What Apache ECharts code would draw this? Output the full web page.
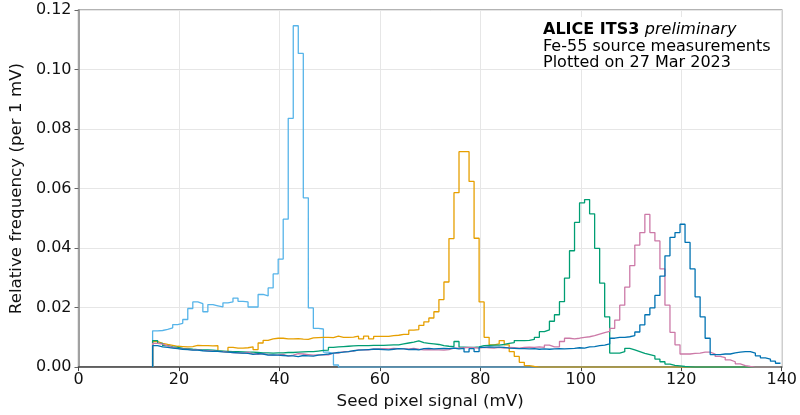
<!DOCTYPE html>
<html>
<head>
<meta charset="utf-8">
<script src="https://cdn.jsdelivr.net/npm/echarts@6/dist/echarts.min.js"></script>
<style>
html,body{margin:0;padding:0;background:#fff;}
#chart{width:800px;height:415px;}
</style>
</head>
<body>
<div id="chart"></div>
<script>
// Histogram bins: 1 mV wide, first bin lower edge (mV)
const binStart = 14.75;
const binWidth = 1;

// Relative frequency per bin (bins starting at ~15 mV ... ~139 mV)
const lightBlue = [
0.0122,0.0123,0.0127,0.0132,0.0143,0.0147,0.0160,0.0197,0.0219,0.0213,
0.0186,0.0210,0.0206,0.0202,0.0216,0.0219,0.0232,0.0221,0.0219,0.0202,
0.0202,0.0244,0.0239,0.0266,0.0313,0.0363,0.0497,0.0836,0.1147,0.1054,
0.0569,0.0199,0.0130,0.0128,0.0050,0.0045,0.0007,0,0,0,
0,0,0,0,0,0,0,0,0,0,
0,0,0,0,0,0,0,0,0,0,
0,0,0,0,0,0,0,0,0,0,
0,0,0,0,0,0,0,0,0,0,
0,0,0,0,0,0,0,0,0,0,
0,0,0,0,0,0,0,0,0,0,
0,0,0,0,0,0,0,0,0,0,
0,0,0,0,0,0,0,0,0,0,
0,0,0,0,0
];
const yellow = [
0.0086,0.0080,0.0076,0.0073,0.0070,0.0069,0.0068,0.0069,0.0073,0.0072,
0.0072,0.0071,0.0072,0.0053,0.0051,0.0066,0.0064,0.0064,0.0065,0.0068,
0.0059,0.0081,0.0090,0.0095,0.0097,0.0097,0.0095,0.0095,0.0096,0.0094,
0.0093,0.0098,0.0099,0.0100,0.0100,0.0099,0.0104,0.0100,0.0100,0.0101,
0.0104,0.0095,0.0104,0.0095,0.0103,0.0103,0.0103,0.0106,0.0107,0.0110,
0.0110,0.0124,0.0126,0.0140,0.0152,0.0165,0.0186,0.0227,0.0286,0.0432,
0.0586,0.0724,0.0724,0.0624,0.0433,0.0219,0.0100,0.0075,0.0078,0.0089,
0.0075,0.0052,0.0036,0.0016,0.0005,0.0002,0,0,0,0,
0,0,0,0,0,0,0,0,0,0,
0,0,0,0,0,0,0,0,0,0,
0,0,0,0,0,0,0,0,0,0,
0,0,0,0,0,0,0,0,0,0,
0,0,0,0,0
];
const green = [
0.0089,0.0080,0.0072,0.0068,0.0066,0.0063,0.0062,0.0060,0.0059,0.0058,
0.0058,0.0057,0.0055,0.0054,0.0053,0.0052,0.0052,0.0051,0.0050,0.0050,
0.0049,0.0048,0.0048,0.0047,0.0048,0.0048,0.0049,0.0049,0.0050,0.0051,
0.0052,0.0052,0.0054,0.0056,0.0057,0.0066,0.0068,0.0069,0.0070,0.0071,
0.0072,0.0072,0.0072,0.0073,0.0073,0.0073,0.0074,0.0075,0.0075,0.0078,
0.0081,0.0084,0.0088,0.0082,0.0080,0.0078,0.0076,0.0072,0.0070,0.0069,
0.0086,0.0067,0.0066,0.0066,0.0068,0.0072,0.0073,0.0074,0.0074,0.0076,
0.0080,0.0082,0.0089,0.0089,0.0090,0.0093,0.0100,0.0119,0.0125,0.0154,
0.0176,0.0220,0.0299,0.0391,0.0486,0.0552,0.0563,0.0515,0.0399,0.0282,
0.0169,0.0047,0.0047,0.0052,0.0063,0.0058,0.0052,0.0046,0.0042,0.0038,
0.0027,0.0018,0.0010,0.0006,0.0004,0.0002,0.0001,0,0,0,
0,0,0,0,0,0,0,0,0,0,
0,0,0,0,0
];
const pink = [
0.0080,0.0077,0.0071,0.0066,0.0063,0.0061,0.0060,0.0058,0.0058,0.0056,
0.0055,0.0054,0.0053,0.0052,0.0050,0.0049,0.0048,0.0046,0.0050,0.0044,
0.0043,0.0045,0.0042,0.0040,0.0041,0.0043,0.0037,0.0040,0.0045,0.0044,
0.0042,0.0040,0.0041,0.0041,0.0041,0.0047,0.0047,0.0052,0.0052,0.0054,
0.0058,0.0058,0.0058,0.0061,0.0061,0.0062,0.0061,0.0063,0.0062,0.0062,
0.0061,0.0063,0.0060,0.0058,0.0059,0.0058,0.0058,0.0057,0.0059,0.0064,
0.0064,0.0065,0.0066,0.0065,0.0064,0.0066,0.0065,0.0064,0.0066,0.0064,
0.0066,0.0065,0.0064,0.0066,0.0067,0.0066,0.0068,0.0066,0.0074,0.0068,
0.0068,0.0086,0.0097,0.0095,0.0097,0.0100,0.0102,0.0106,0.0111,0.0116,
0.0120,0.0130,0.0158,0.0208,0.0269,0.0341,0.0410,0.0452,0.0513,0.0452,
0.0424,0.0330,0.0208,0.0117,0.0075,0.0044,0.0044,0.0046,0.0047,0.0050,
0.0050,0.0044,0.0036,0.0032,0.0024,0.0018,0.0011,0.0005,0.0002,0,
0,0,0,0,0
];
const darkBlue = [
0.0072,0.0068,0.0066,0.0064,0.0062,0.0060,0.0059,0.0057,0.0057,0.0055,
0.0054,0.0053,0.0053,0.0051,0.0050,0.0049,0.0048,0.0047,0.0046,0.0043,
0.0045,0.0044,0.0040,0.0041,0.0040,0.0039,0.0038,0.0038,0.0035,0.0039,
0.0038,0.0037,0.0040,0.0042,0.0044,0.0047,0.0049,0.0050,0.0052,0.0055,
0.0057,0.0058,0.0059,0.0060,0.0060,0.0059,0.0058,0.0060,0.0062,0.0061,
0.0059,0.0060,0.0058,0.0062,0.0063,0.0061,0.0062,0.0063,0.0062,0.0064,
0.0061,0.0063,0.0051,0.0062,0.0052,0.0066,0.0068,0.0067,0.0067,0.0066,
0.0064,0.0063,0.0062,0.0062,0.0061,0.0062,0.0060,0.0061,0.0060,0.0061,
0.0062,0.0061,0.0062,0.0063,0.0065,0.0064,0.0068,0.0069,0.0072,0.0074,
0.0078,0.0097,0.0100,0.0100,0.0102,0.0106,0.0118,0.0142,0.0176,0.0199,
0.0241,0.0306,0.0374,0.0436,0.0452,0.0480,0.0419,0.0330,0.0236,0.0169,
0.0097,0.0042,0.0042,0.0044,0.0044,0.0048,0.0050,0.0052,0.0052,0.0047,
0.0038,0.0031,0.0027,0.0020,0.0013
];

const xTicks = [0, 20, 40, 60, 80, 100, 120, 140];
const yTicks = [0, 0.02, 0.04, 0.06, 0.08, 0.10, 0.12];

const seriesDefs = [
  {name: 'lightBlue', values: lightBlue, color: '#56B4E9'},
  {name: 'yellow', values: yellow, color: '#E69F00'},
  {name: 'green', values: green, color: '#009E73'},
  {name: 'pink', values: pink, color: '#CC79A7'},
  {name: 'darkBlue', values: darkBlue, color: '#0072B2'}
];

function stairs(vals) {
  const pts = [[binStart, 0]];
  vals.forEach((v, i) => pts.push([binStart + i * binWidth, v]));
  pts.push([binStart + vals.length * binWidth, vals[vals.length - 1]]);
  return pts;
}

const FONT = 'DejaVu Sans';
const chart = echarts.init(document.getElementById('chart'), null, {renderer: 'canvas'});
chart.setOption({
  animation: false,
  backgroundColor: '#fff',
  grid: {left: 77, right: 15, top: 10, bottom: 46, show: true, borderColor: '#9a9a9a', borderWidth: 1.5, backgroundColor: 'transparent'},
  xAxis: {
    type: 'value', min: xTicks[0], max: xTicks[xTicks.length - 1], interval: 20,
    name: 'Seed pixel signal (mV)', nameLocation: 'middle', nameGap: 24,
    nameTextStyle: {fontFamily: FONT, fontSize: 16.7, color: '#111'},
    axisLine: {show: true, lineStyle: {color: '#444', width: 1.5}},
    axisTick: {show: true, length: 4, lineStyle: {color: '#444'}},
    axisLabel: {fontFamily: FONT, fontSize: 16, color: '#111', margin: 5},
    splitLine: {show: true, lineStyle: {color: '#e6e6e6', width: 1}}
  },
  yAxis: {
    type: 'value', min: yTicks[0], max: yTicks[yTicks.length - 1], interval: 0.02,
    name: 'Relative frequency (per 1 mV)', nameLocation: 'middle', nameGap: 48,
    nameTextStyle: {fontFamily: FONT, fontSize: 16.7, color: '#111'},
    axisLine: {show: true, lineStyle: {color: '#8a8a8a', width: 1.5}},
    axisTick: {show: true, length: 4, lineStyle: {color: '#666'}},
    axisLabel: {fontFamily: FONT, fontSize: 16, color: '#111', margin: 7, formatter: v => v.toFixed(2)},
    splitLine: {show: true, lineStyle: {color: '#e6e6e6', width: 1}}
  },
  graphic: [
    {type: 'rect', left: 538, top: 17, silent: true, z: 5, shape: {width: 238, height: 52}, style: {fill: '#fff'}},
    {type: 'text', left: 543, top: 22, silent: true, z: 6, style: {
      text: '{b|ALICE ITS3 }{i|preliminary}',
      rich: {
        b: {fontFamily: FONT, fontSize: 16, fontWeight: 'bold', fill: '#000'},
        i: {fontFamily: FONT, fontSize: 16, fontStyle: 'italic', fill: '#000'}
      }
    }},
    {type: 'text', left: 543, top: 38.5, silent: true, z: 6, style: {text: 'Fe-55 source measurements', font: '16px "DejaVu Sans"', fill: '#000'}},
    {type: 'text', left: 543, top: 55, silent: true, z: 6, style: {text: 'Plotted on 27 Mar 2023', font: '16px "DejaVu Sans"', fill: '#000'}}
  ],
  series: seriesDefs.map(s => ({
    name: s.name, type: 'line', step: 'end', symbol: 'none', silent: true,
    data: stairs(s.values),
    lineStyle: {color: s.color, width: 1.3},
    itemStyle: {color: s.color}
  }))
});
</script>
</body>
</html>
